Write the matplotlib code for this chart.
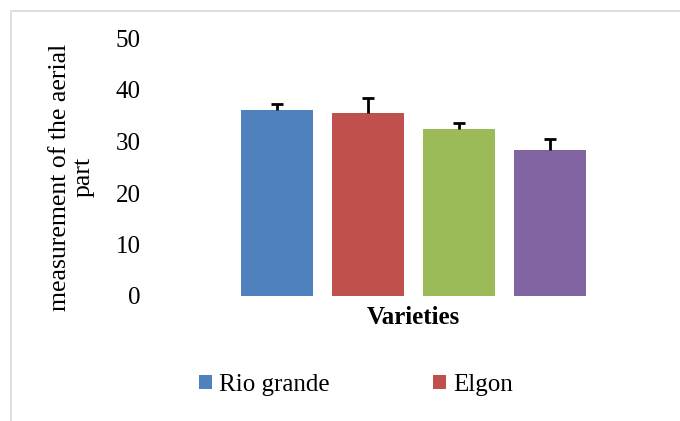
import matplotlib
matplotlib.use("Agg")
import matplotlib.pyplot as plt
from matplotlib.patches import Patch, Rectangle

series_names = ["Rio grande", "Elgon", "Variety 3", "Variety 4"]
values = [36.1, 35.5, 32.4, 28.3]
errors_up = [1.1, 3.0, 1.1, 2.1]
colors = ["#4F81BD", "#C0504D", "#9BBB59", "#8064A2"]
yticks = [0, 10, 20, 30, 40, 50]
legend_shown = 2  # only the first two entries are visible in the reference

plt.rcParams['font.family'] = ['Liberation Serif', 'DejaVu Serif']

W, H = 680, 421
fig = plt.figure(figsize=(W / 100, H / 100), dpi=100)

# axes placement in pixels
px_left, px_right = 150, 676
px_bottom, px_top = 296, 38.5
ax = fig.add_axes([px_left / W, 1 - px_bottom / H, (px_right - px_left) / W, (px_bottom - px_top) / H])

unit = 91.0
center_px = 413
xs = list(range(len(values)))
ax.set_xlim(1.5 - (center_px - px_left) / unit, 1.5 + (px_right - center_px) / unit)
ax.set_ylim(0, 50)

bw = 72 / unit
for i, (v, e, c) in enumerate(zip(values, errors_up, colors)):
    ax.bar(xs[i], v, width=bw, color=c, zorder=2)
    _, caps, _ = ax.errorbar(xs[i], v, yerr=[[0], [e]], fmt='none', ecolor='black',
                             elinewidth=2, capsize=4.5, capthick=2, zorder=3)
    caps[0].set_visible(False)  # only the upper cap is drawn

ax.set_yticks(yticks)
ax.set_yticklabels([str(t) for t in yticks], fontsize=18)
ax.set_xticks([])
ax.tick_params(axis='y', length=0, pad=6.5)
for s in ax.spines.values():
    s.set_visible(False)

# y label (two lines)
fig.text(72 / W, 1 - 177 / H, "measurement of the aerial\npart", rotation=90,
         ha='center', va='center', fontsize=18.5, multialignment='center', linespacing=1.1)
# x label
fig.text(center_px / W, 1 - 318 / H, "Varieties", ha='center', va='center',
         fontsize=18, fontweight='bold')

handles = [Patch(facecolor=colors[i], edgecolor='none', label=series_names[i]) for i in range(legend_shown)]
fig.legend(handles=handles, loc='center left', bbox_to_anchor=(199 / W, 1 - 385 / H),
           ncol=2, frameon=False, fontsize=18, handlelength=0.52, handleheight=0.52,
           handletextpad=0.28, columnspacing=4.15, borderpad=0, borderaxespad=0)

# chart border (clipped at right/bottom in the reference)
fig.add_artist(Rectangle((10.5 / W, -0.05), 1.2, 1 - 10.5 / H + 0.05, transform=fig.transFigure,
                         fill=False, edgecolor='#d9d9d9', linewidth=1.2))

fig.savefig("out.png", dpi=100)
